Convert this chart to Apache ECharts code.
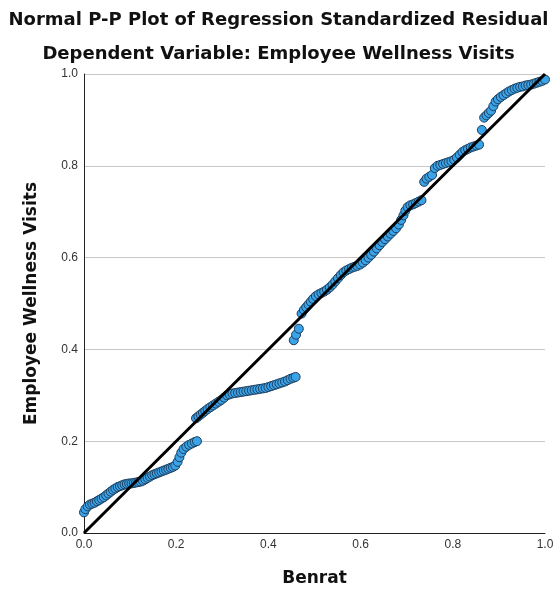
<!DOCTYPE html>
<html>
<head>
<meta charset="utf-8">
<script src="https://cdn.jsdelivr.net/npm/echarts@6/dist/echarts.min.js"></script>
<style>
html,body{margin:0;padding:0;background:#fff;}
#chart{width:557px;height:592px;}
</style>
</head>
<body>
<div id="chart"></div>
<script>
var xVals = [0.000,0.003,0.008,0.013,0.018,0.023,0.028,0.033,0.038,0.043,0.048,0.053,0.058,0.063,0.068,0.073,0.078,0.083,0.088,0.093,0.098,0.103,0.108,0.113,0.118,0.123,
    0.128,0.133,0.138,0.143,0.148,0.153,0.158,0.163,0.168,0.173,0.178,0.183,0.188,0.193,0.198,0.203,0.207,0.211,0.216,0.222,0.228,0.234,0.240,0.245,
    0.243,0.248,0.253,0.258,0.263,0.268,0.274,0.280,0.286,0.292,0.298,0.304,0.310,0.316,0.322,0.328,0.334,0.340,0.346,0.352,0.358,0.364,0.370,0.376,0.382,0.388,0.394,0.400,0.406,0.412,0.418,0.424,0.430,0.436,0.442,0.448,0.454,0.459,
    0.455,0.460,0.466,0.472,0.477,0.482,0.487,0.492,0.497,0.503,0.509,0.515,0.521,0.527,0.533,0.539,0.545,0.551,0.557,0.563,0.569,0.575,0.581,0.587,0.593,0.599,0.605,0.611,0.617,0.623,0.629,0.635,0.641,0.647,0.653,0.659,0.665,0.671,0.677,0.683,0.688,0.693,0.697,0.702,0.708,0.714,0.720,0.726,0.732,
    0.738,0.743,0.749,0.755,0.761,0.767,0.773,0.779,0.785,0.791,0.797,0.803,0.809,0.815,0.821,0.827,0.833,0.839,0.845,0.851,0.857,0.863,
    0.868,0.873,0.878,0.883,0.888,0.893,0.898,0.904,0.910,0.916,0.922,0.928,0.934,0.940,0.946,0.952,0.958,0.964,0.970,0.976,0.982,0.988,0.994,1.000];
var yVals = [0.045,0.052,0.058,0.062,0.064,0.066,0.069,0.072,0.075,0.078,0.082,0.086,0.090,0.094,0.097,0.100,0.102,0.104,0.106,0.107,0.108,0.108,0.109,0.110,0.111,0.112,
    0.114,0.117,0.120,0.123,0.126,0.128,0.130,0.132,0.134,0.136,0.138,0.140,0.142,0.144,0.147,0.155,0.165,0.175,0.183,0.188,0.192,0.195,0.198,0.200,
    0.250,0.254,0.258,0.262,0.266,0.270,0.274,0.278,0.282,0.286,0.290,0.295,0.300,0.302,0.304,0.305,0.306,0.307,0.308,0.309,0.310,0.311,0.312,0.313,0.314,0.315,0.316,0.318,0.320,0.322,0.324,0.326,0.328,0.330,0.333,0.336,0.338,0.340,
    0.420,0.432,0.445,0.478,0.486,0.492,0.498,0.504,0.510,0.516,0.520,0.523,0.526,0.530,0.535,0.541,0.548,0.555,0.562,0.568,0.572,0.575,0.578,0.580,0.582,0.585,0.589,0.594,0.600,0.606,0.613,0.620,0.627,0.634,0.640,0.646,0.652,0.658,0.664,0.672,0.682,0.692,0.702,0.710,0.714,0.716,0.719,0.722,0.725,
    0.765,0.772,0.776,0.780,0.795,0.800,0.802,0.804,0.806,0.808,0.810,0.813,0.818,0.824,0.830,0.834,0.837,0.840,0.842,0.844,0.846,0.878,
    0.905,0.910,0.915,0.920,0.930,0.940,0.945,0.950,0.954,0.958,0.962,0.965,0.968,0.970,0.972,0.973,0.975,0.976,0.977,0.979,0.981,0.983,0.985,0.988];
var refLine = [[0, 0], [1, 1]];
var tickLabels = ['0.0', '0.2', '0.4', '0.6', '0.8', '1.0'];

var points = [];
for (var i = 0; i < xVals.length; i++) {
    points.push([xVals[i], yVals[i]]);
}

var font = 'DejaVu Sans';
var myChart = echarts.init(document.getElementById('chart'));
var option = {
    backgroundColor: '#fff',
    animation: false,
    title: [{
        text: 'Normal P-P Plot of Regression Standardized Residual',
        left: 'center',
        top: 6,
        textStyle: {fontFamily: font, fontSize: 18, fontWeight: 'bold', color: '#111'}
    }, {
        text: 'Dependent Variable: Employee Wellness Visits',
        left: 'center',
        top: 40,
        textStyle: {fontFamily: font, fontSize: 18, fontWeight: 'bold', color: '#111'}
    }],
    grid: {left: 84, right: 12, top: 74, bottom: 57, containLabel: false},
    xAxis: {
        type: 'value',
        min: 0, max: 1, interval: 0.2,
        name: 'Benrat',
        nameLocation: 'middle',
        nameGap: 37,
        nameTextStyle: {fontFamily: font, fontSize: 17, fontWeight: 'bold', color: '#111'},
        axisLine: {show: true, lineStyle: {color: '#222', width: 1}},
        axisTick: {show: false},
        splitLine: {show: false},
        axisLabel: {
            fontFamily: 'Liberation Sans', fontSize: 12, color: '#333', margin: 6,
            formatter: function (v) { return tickLabels[Math.round(v * 5)]; }
        }
    },
    yAxis: {
        type: 'value',
        min: 0, max: 1, interval: 0.2,
        name: 'Employee Wellness Visits',
        nameLocation: 'middle',
        nameGap: 44,
        nameTextStyle: {fontFamily: font, fontSize: 17, fontWeight: 'bold', color: '#111'},
        axisLine: {show: true, lineStyle: {color: '#222', width: 1}},
        axisTick: {show: false},
        splitLine: {show: true, lineStyle: {color: '#c8c8c8', width: 1}},
        axisLabel: {
            fontFamily: 'Liberation Sans', fontSize: 12, color: '#333', margin: 6,
            formatter: function (v) { return tickLabels[Math.round(v * 5)]; }
        }
    },
    series: [{
        type: 'scatter',
        data: points,
        symbol: 'circle',
        symbolSize: 9,
        itemStyle: {color: '#3ba3e8', borderColor: '#1d3d5c', borderWidth: 1, opacity: 1},
        z: 2
    }, {
        type: 'line',
        data: refLine,
        symbol: 'none',
        lineStyle: {color: '#000', width: 3},
        z: 3
    }]
};
myChart.setOption(option);
</script>
</body>
</html>
